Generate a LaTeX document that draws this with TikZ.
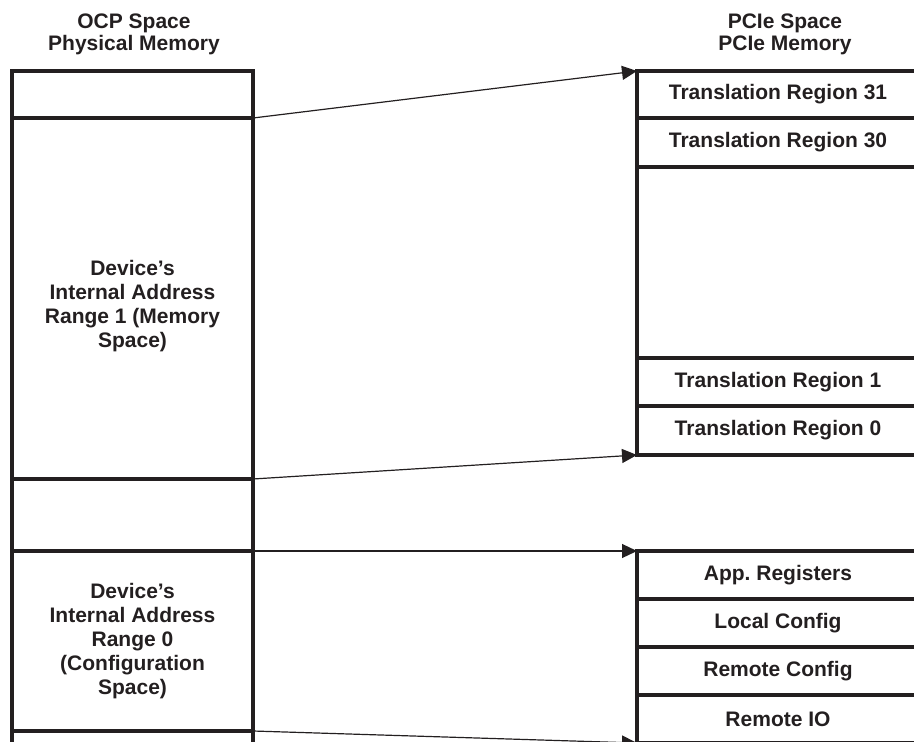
\documentclass[tikz,border=0pt]{standalone}
\usepackage{fontspec}
\setmainfont{Liberation Sans}
\usetikzlibrary{positioning,arrows.meta}
\definecolor{inkDark}{HTML}{231F20}

\begin{document}
\begin{tikzpicture}[x=1pt, y=-1pt, >={Triangle[length=15pt,width=14pt]},
    every node/.style={font=\bfseries\fontsize{21}{24}\selectfont, text=inkDark, align=center, outer sep=0pt},
    memBlock/.style={draw=inkDark, line width=3.5pt, minimum width=241pt, inner sep=0pt},
    pcieBlock/.style={draw=inkDark, line width=3.5pt, minimum width=282pt, minimum height=48pt, inner sep=0pt},
    mapLine/.style={->, draw=inkDark, line width=1.2pt}]
  \useasboundingbox (0,0) rectangle (914,742);
  \clip (0,0) rectangle (914,742);
  % headings
  \node[font=\bfseries\fontsize{21}{22}\selectfont] (ocpHead) at (134,34) {OCP Space\\Physical Memory};
  \node[font=\bfseries\fontsize{21}{22}\selectfont] (pcieHead) at (785,34) {PCIe Space\\PCIe Memory};
  % OCP side
  \node[memBlock, minimum height=47pt, anchor=north west] (ocpTop) at (12,71) {};
  \node[memBlock, minimum height=361pt, below=0pt of ocpTop] (ocpRange1) {};
  \node (ocpRange1Text) at ([yshift=-8pt]ocpRange1.center) {Device’s\\Internal Address\\Range 1 (Memory\\Space)};
  \node[memBlock, minimum height=72pt, below=0pt of ocpRange1] (ocpGap) {};
  \node[memBlock, minimum height=180pt, below=0pt of ocpGap] (ocpRange0) {Device’s\\Internal Address\\Range 0\\(Configuration\\Space)};
  \node[memBlock, minimum height=40pt, below=0pt of ocpRange0] (ocpBottom) {};
  % PCIe side
  \node[pcieBlock, minimum height=47pt, anchor=north west] (pcie31) at (637,71) {Translation Region 31};
  \node[pcieBlock, minimum height=49pt, below=0pt of pcie31] (pcie30) {Translation Region 30};
  \node[pcieBlock, minimum height=191pt, below=0pt of pcie30] (pcieMid) {};
  \node[pcieBlock, below=0pt of pcieMid] (pcie1) {Translation Region 1};
  \node[pcieBlock, minimum height=49pt, below=0pt of pcie1] (pcie0) {Translation Region 0};
  \node[pcieBlock, anchor=north west] (pcieApp) at (637,551) {App.\ Registers};
  \node[pcieBlock, below=0pt of pcieApp] (pcieLocal) {Local Config};
  \node[pcieBlock, below=0pt of pcieLocal] (pcieRemote) {Remote Config};
  \node[pcieBlock, below=0pt of pcieRemote] (pcieRemoteIO) {Remote IO};
  % mapping
  \draw[mapLine] (ocpTop.south east) -- (pcie31.north west);
  \draw[mapLine] (ocpRange1.south east) -- (pcie0.south west);
  \draw[mapLine] (ocpGap.south east) -- (pcieApp.north west);
  \draw[mapLine] (ocpRange0.south east) -- (pcieRemoteIO.south west);
\end{tikzpicture}
\end{document}
